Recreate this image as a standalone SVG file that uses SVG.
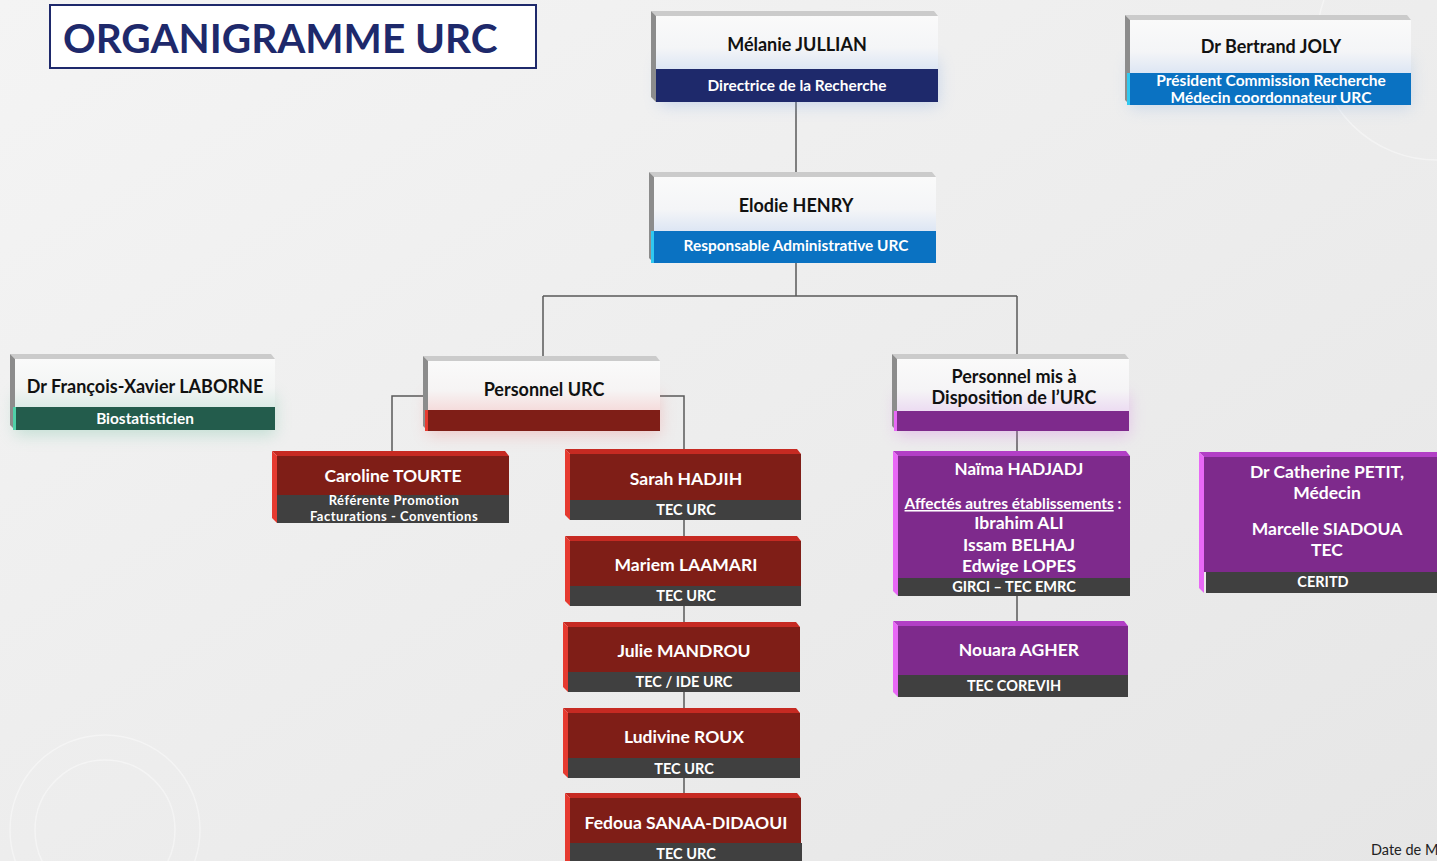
<svg xmlns="http://www.w3.org/2000/svg" width="1437" height="861" viewBox="0 0 1437 861">
<defs>
<linearGradient id="bg" x1="0" y1="0" x2="1" y2="1">
<stop offset="0" stop-color="#f4f4f4"/><stop offset="1" stop-color="#e6e6e6"/>
</linearGradient>
<linearGradient id="faceBlue" x1="0" y1="0" x2="0" y2="1"><stop offset="0" stop-color="#fafafa"/><stop offset="0.6" stop-color="#f4f5f7"/><stop offset="1" stop-color="#dde6f4"/></linearGradient>
<linearGradient id="faceGreen" x1="0" y1="0" x2="0" y2="1"><stop offset="0" stop-color="#fafafa"/><stop offset="0.6" stop-color="#f3f5f4"/><stop offset="1" stop-color="#dcebe6"/></linearGradient>
<linearGradient id="faceRed" x1="0" y1="0" x2="0" y2="1"><stop offset="0" stop-color="#fafafa"/><stop offset="0.6" stop-color="#f6f4f4"/><stop offset="1" stop-color="#f5dcdc"/></linearGradient>
<linearGradient id="facePurple" x1="0" y1="0" x2="0" y2="1"><stop offset="0" stop-color="#fafafa"/><stop offset="0.6" stop-color="#f5f4f6"/><stop offset="1" stop-color="#ecdcf2"/></linearGradient>
<filter id="glow" x="-20%" y="-40%" width="140%" height="180%"><feGaussianBlur stdDeviation="8"/></filter>
<style>
.bg{fill:url(#bg)}
.conn{stroke:#5a5a5a;stroke-width:1.5;fill:none}
.topG{fill:#cbcbcb}.leftG{fill:#8c8c8c}
.topR{fill:#c62a22}.leftR{fill:#e63a30}
.topP{fill:#b23fc6}.leftP{fill:#e868f6}
.red{fill:#7f1e17}.purple{fill:#7e2a8c}.grayband{fill:#404040}
.navy{fill:#1e296b}.blue{fill:#0a72c2}.green{fill:#235c4c}
.t{font-family:Lato,"Open Sans","Liberation Sans",sans-serif;font-weight:bold;text-anchor:middle}
.dark{fill:#111111;font-size:18px}
.w{fill:#ffffff}
.s14{font-size:14.5px}.s15{font-size:15.4px}.s13{font-size:13px;letter-spacing:0.5px}.s17{font-size:17.5px}.s16{font-size:17px}
</style>
</defs>
<rect class="bg" x="0" y="0" width="1437" height="861"/>
<g fill="none" stroke="#ffffff" stroke-opacity="0.4" stroke-width="1.5">
<circle cx="105" cy="830" r="95"/><circle cx="105" cy="830" r="70"/><circle cx="1437" cy="40" r="120"/>
</g>
<g id="title">
<rect x="50" y="5" width="486" height="63" fill="#ffffff" stroke="#1e296b" stroke-width="2"/>
<text x="63" y="53" font-family="Lato,'Open Sans','Liberation Sans',sans-serif" font-weight="bold" font-size="40.5" fill="#1e296b">ORGANIGRAMME URC</text>
</g>
<g id="connectors">
<path class="conn" d="M796,102 V172"/>
<path class="conn" d="M796,263 V296 M543,296 H1017 M543,296 V356 M1017,296 V354"/>
<path class="conn" d="M428,396 H392 V451 M660,396 H684 V449 M684,520 V536 M684,606 V622 M684,692 V708 M684,778 V793"/>
<path class="conn" d="M1017,431 V451 M1017,596 V621"/>
</g>
<g id="glows" filter="url(#glow)" opacity="0.35">
<rect x="660" y="60" width="278" height="45" fill="#7aa0e0"/>
<rect x="1130" y="60" width="281" height="48" fill="#8ab0e0"/>
<rect x="15" y="395" width="260" height="40" fill="#70c0a0"/>
<rect x="428" y="395" width="232" height="40" fill="#f08080"/>
<rect x="897" y="395" width="232" height="40" fill="#d070e0"/>
</g>
<g id="n-julian">
<polygon class="topG" points="651,11 934,11 938,16 656,16"/>
<polygon class="leftG" points="651,11 656,16 656,102 651,97"/>
<rect x="656" y="16" width="282" height="53" fill="url(#faceBlue)"/>
<rect class="navy" x="656" y="69" width="282" height="33"/>
<text class="t dark" x="797" y="51">Mélanie JULLIAN</text>
<text class="t w s15" x="797" y="91">Directrice de la Recherche</text>
</g>
<g id="n-joly">
<polygon class="topG" points="1125,15 1407,15 1411,20 1130,20"/>
<polygon class="leftG" points="1125,15 1130,20 1130,105 1125,100"/>
<rect x="1130" y="20" width="281" height="53" fill="url(#faceBlue)"/>
<rect class="blue" x="1130" y="73" width="281" height="32"/>
<rect x="1127" y="73" width="3" height="32" fill="#30c8f0"/>
<text class="t dark" x="1271" y="53">Dr Bertrand JOLY</text>
<text class="t w" x="1271" y="86" font-size="15.5">Président Commission Recherche</text>
<text class="t w" x="1271" y="103" font-size="15.5">Médecin coordonnateur URC</text>
</g>
<g id="n-henry">
<polygon class="topG" points="649,172 932,172 936,177 654,177"/>
<polygon class="leftG" points="649,172 654,177 654,263 649,258"/>
<rect x="654" y="177" width="282" height="54" fill="url(#faceBlue)"/>
<rect class="blue" x="654" y="231" width="282" height="32"/>
<rect x="651" y="231" width="3" height="32" fill="#30c8f0"/>
<text class="t dark" x="796" y="212">Elodie HENRY</text>
<text class="t w s15" x="796" y="251">Responsable Administrative URC</text>
</g>
<g id="n-laborne">
<polygon class="topG" points="10,354 271,354 275,359 15,359"/>
<polygon class="leftG" points="10,354 15,359 15,430 10,425"/>
<rect x="15" y="359" width="260" height="48" fill="url(#faceGreen)"/>
<rect class="green" x="15" y="407" width="260" height="23"/>
<rect x="13" y="407" width="3" height="23" fill="#50d0a8"/>
<text class="t dark" x="145" y="393" font-size="17.5">Dr François-Xavier LABORNE</text>
<text class="t w s15" x="145" y="424">Biostatisticien</text>
</g>
<g id="n-personnel-urc">
<polygon class="topG" points="423,356 656,356 660,361 428,361"/>
<polygon class="leftG" points="423,356 428,361 428,431 423,426"/>
<rect x="428" y="361" width="232" height="49" fill="url(#faceRed)"/>
<rect class="red" x="428" y="410" width="232" height="21"/>
<rect x="425" y="410" width="3" height="21" fill="#e63a30"/>
<text class="t dark" x="544" y="396">Personnel URC</text>
</g>
<g id="n-personnel-mis">
<polygon class="topG" points="892,354 1125,354 1129,359 897,359"/>
<polygon class="leftG" points="892,354 897,359 897,431 892,426"/>
<rect x="897" y="359" width="232" height="52" fill="url(#facePurple)"/>
<rect class="purple" x="897" y="411" width="232" height="20"/>
<rect x="894" y="411" width="3" height="20" fill="#e868f6"/>
<text class="t dark" x="1014" y="383">Personnel mis à</text>
<text class="t dark" x="1014" y="404">Disposition de l’URC</text>
</g>
<g id="n-tourte">
<polygon class="topR" points="272,451 505,451 509,456 277,456"/>
<polygon class="leftR" points="272,451 277,456 277,523 272,518"/>
<rect class="red" x="277" y="456" width="232" height="39"/>
<rect class="grayband" x="277" y="495" width="232" height="28"/>
<text class="t w s17" x="393" y="482">Caroline TOURTE</text>
<text class="t w s13" x="394" y="505">Référente Promotion</text>
<text class="t w s13" x="394" y="520.5">Facturations - Conventions</text>
</g>
<g id="n-hadjih">
<polygon class="topR" points="565,449 797,449 801,454 570,454"/>
<polygon class="leftR" points="565,449 570,454 570,520 565,515"/>
<rect class="red" x="570" y="454" width="231" height="46"/>
<rect class="grayband" x="570" y="500" width="231" height="20"/>
<text class="t w s17" x="686" y="485">Sarah HADJIH</text>
<text class="t w s14" x="686" y="515">TEC URC</text>
</g>
<g id="n-laamari">
<polygon class="topR" points="565,536 797,536 801,541 570,541"/>
<polygon class="leftR" points="565,536 570,541 570,606 565,601"/>
<rect class="red" x="570" y="541" width="231" height="45"/>
<rect class="grayband" x="570" y="586" width="231" height="20"/>
<text class="t w s17" x="686" y="571">Mariem LAAMARI</text>
<text class="t w s14" x="686" y="601">TEC URC</text>
</g>
<g id="n-mandrou">
<polygon class="topR" points="563,622 796,622 800,627 568,627"/>
<polygon class="leftR" points="563,622 568,627 568,692 563,687"/>
<rect class="red" x="568" y="627" width="232" height="45"/>
<rect class="grayband" x="568" y="672" width="232" height="20"/>
<text class="t w s17" x="684" y="657">Julie MANDROU</text>
<text class="t w s14" x="684" y="687">TEC / IDE URC</text>
</g>
<g id="n-roux">
<polygon class="topR" points="563,708 796,708 800,713 568,713"/>
<polygon class="leftR" points="563,708 568,713 568,778 563,773"/>
<rect class="red" x="568" y="713" width="232" height="45"/>
<rect class="grayband" x="568" y="758" width="232" height="20"/>
<text class="t w s17" x="684" y="743">Ludivine ROUX</text>
<text class="t w s14" x="684" y="774">TEC URC</text>
</g>
<g id="n-sanaa">
<polygon class="topR" points="565,793 797,793 801,798 570,798"/>
<polygon class="leftR" points="565,793 570,798 570,861 565,861"/>
<rect class="red" x="570" y="798" width="231" height="45"/>
<rect class="grayband" x="570" y="843" width="232" height="20"/>
<text class="t w s17" x="686" y="829">Fedoua SANAA-DIDAOUI</text>
<text class="t w s14" x="686" y="859">TEC URC</text>
</g>
<g id="n-hadjadj">
<polygon class="topP" points="893,451 1126,451 1130,456 898,456"/>
<polygon class="leftP" points="893,451 898,456 898,596 893,591"/>
<rect class="purple" x="898" y="456" width="232" height="122"/>
<rect class="grayband" x="898" y="578" width="232" height="18"/>
<text class="t w s16" x="1019" y="475">Naïma HADJADJ</text>
<text class="t w s15" x="1013" y="509"><tspan text-decoration="underline">Affectés autres établissements</tspan> :</text>
<text class="t w s17" x="1019" y="529">Ibrahim ALI</text>
<text class="t w s17" x="1019" y="551">Issam BELHAJ</text>
<text class="t w s17" x="1019" y="572">Edwige LOPES</text>
<text class="t w s14" x="1014" y="592">GIRCI – TEC EMRC</text>
</g>
<g id="n-agher">
<polygon class="topP" points="893,621 1124,621 1128,626 898,626"/>
<polygon class="leftP" points="893,621 898,626 898,697 893,692"/>
<rect class="purple" x="898" y="626" width="230" height="49"/>
<rect class="grayband" x="898" y="675" width="230" height="22"/>
<text class="t w s17" x="1019" y="656">Nouara AGHER</text>
<text class="t w s14" x="1014" y="691">TEC COREVIH</text>
</g>
<g id="n-petit">
<polygon class="topP" points="1199,452 1437,452 1437,457 1204,457"/>
<polygon class="leftP" points="1199,452 1204,457 1204,593 1199,588"/>
<rect class="purple" x="1204" y="457" width="233" height="115"/>
<rect class="grayband" x="1206" y="572" width="231" height="21"/>
<text class="t w s17" x="1327" y="478">Dr Catherine PETIT,</text>
<text class="t w s17" x="1327" y="499">Médecin</text>
<text class="t w s17" x="1327" y="535">Marcelle SIADOUA</text>
<text class="t w s17" x="1327" y="556">TEC</text>
<text class="t w s14" x="1323" y="587">CERITD</text>
</g>
<text x="1371" y="855" font-family="Lato,'Open Sans','Liberation Sans',sans-serif" font-size="14.5" fill="#222222">Date de M</text>
</svg>
